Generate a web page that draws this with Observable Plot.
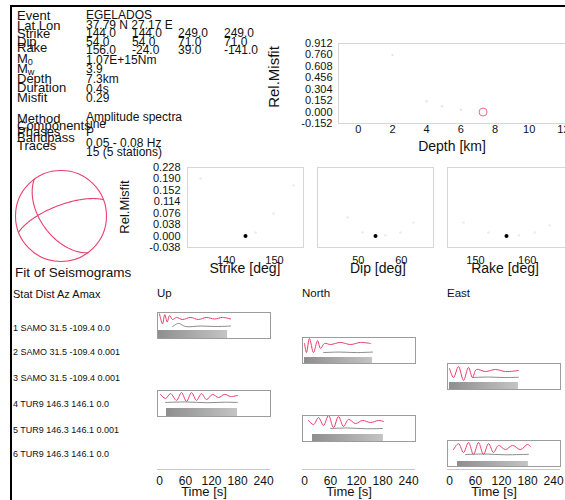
<!DOCTYPE html>
<html><head><meta charset="utf-8">
<script src="https://cdn.jsdelivr.net/npm/d3@7"></script>
<script src="https://cdn.jsdelivr.net/npm/@observablehq/plot@0.6"></script>
<style>
body{margin:0;background:#fff;}
#chart{position:relative;width:565px;height:500px;overflow:hidden;font-family:"Liberation Sans",Arial,Helvetica,sans-serif;background:#fff;color:#111;}
.t{position:absolute;white-space:nowrap;line-height:1;}
.t sub{font-size:70%;vertical-align:-0.25em;line-height:0;}
</style></head><body><div id="chart"></div><script>
// ---------------- DATA ----------------
const infoLabels = ["Event","Lat Lon","Strike","Dip","Rake","M<sub>0</sub>","M<sub>w</sub>","Depth","Duration","Misfit","Method","Components","Phases","Bandpass","Traces"];
const infoValues = [["EGELADOS"],["37.79 N 27.17 E"],["144.0","144.0","249.0","249.0"],["54.0","54.0","71.0","71.0"],["156.0","-24.0","39.0","-141.0"],["1.07E+15Nm"],["3.9"],["7.3km"],["0.4s"],["0.29"],["Amplitude spectra"],["une"],["P"],["0.05 - 0.08 Hz"],["15 (5 stations)"]];

const depthTicks = [-0.152,0,0.152,0.304,0.456,0.608,0.760,0.912];
const depthXTicks = [0,2,4,6,8,10,12];
const depthTrials = [{depth:2,misfit:0.76},{depth:4,misfit:0.144},{depth:4.9,misfit:0.077},{depth:6,misfit:0.03}];
const depthBest = [{depth:7.3,misfit:0}];

const misfitTicks = [-0.038,0,0.038,0.076,0.114,0.152,0.190,0.228];
const strikeTrials = [{v:134.7,m:0.191},{v:153.9,m:0.168},{v:149.8,m:0.075},{v:146.1,m:0.012}];
const dipTrials = [{v:47.5,m:0.062},{v:51,m:0.012},{v:56.3,m:0.002},{v:59.8,m:0.012},{v:62.8,m:0.045}];
const rakeTrials = [{v:147.7,m:0.045},{v:152.5,m:0.012},{v:158.4,m:0.002},{v:161.5,m:0.012},{v:164.3,m:0.035}];
const bestStrike = [{v:144,m:0}], bestDip = [{v:54,m:0}], bestRake = [{v:156,m:0}];

const planes = [{strike:144,dip:54},{strike:249,dip:71}];

const stations = ["1 SAMO 31.5 -109.4 0.0","2 SAMO 31.5 -109.4 0.001","3 SAMO 31.5 -109.4 0.001","4 TUR9 146.3 146.1 0.0","5 TUR9 146.3 146.1 0.001","6 TUR9 146.3 146.1 0.0"];
const components = ["Up","North","East","Up","North","East"];
const timeTicks = [0,60,120,180,240];
// synthetic (red) traces: [time s, relative amplitude]
const redTraces = [
 [[0,0.95],[6.9,0.56],[12.2,0.92],[17.8,0.63],[23.1,0.88],[30,0.73],[39,0.81],[53,0.73],[71,0.81],[90,0.73],[108,0.81],[127,0.75],[145,0.81],[164,0.75]],
 [[0,0.77],[4.6,0.42],[11.5,0.96],[20.8,0.42],[30,0.88],[37,0.58],[46,0.77],[60,0.73],[83,0.81],[106,0.73],[129,0.81],[152,0.77]],
 [[0,0.81],[9.2,0.46],[20.8,0.88],[32.3,0.35],[43.8,0.85],[53,0.46],[62,0.77],[83,0.69],[106,0.77],[129,0.69],[159,0.73]],
 [[2.3,0.85],[13.9,0.69],[25.4,0.88],[39.2,0.62],[50.8,0.92],[62.3,0.58],[73.8,0.92],[85.3,0.62],[96.9,0.88],[108.4,0.65],[122.2,0.85],[136.1,0.73],[149.9,0.85],[163.8,0.77],[180,0.81]],
 [[9.2,0.81],[20.8,0.65],[32.3,0.92],[43.8,0.62],[55.4,1.0],[66.9,0.54],[78.4,0.96],[90,0.58],[101.5,0.85],[117.6,0.69],[133.8,0.81],[152.2,0.73],[170.7,0.81],[182,0.77]],
 [[9.2,0.65],[20.8,0.88],[32.3,0.54],[43.8,0.92],[55.4,0.46],[66.9,0.92],[78.4,0.46],[90,0.88],[101.5,0.54],[113,0.81],[129.2,0.65],[145.3,0.81],[163.8,0.65],[180,0.85],[186.8,0.77]]
];
// observed (dark) traces
const darkTraces = [
 [[30,0.46],[44,0.58],[60,0.46],[95,0.48],[129,0.46],[164,0.48]],
 [[44,0.42],[80,0.44],[120,0.42],[157,0.44]],
 [[53,0.46],[90,0.48],[125,0.46],[159,0.47]],
 [[13.9,0.54],[60,0.56],[110,0.53],[150,0.55],[180,0.54]],
 [[60,0.5],[100,0.52],[140,0.49],[180,0.5]],
 [[36.9,0.46],[80,0.48],[130,0.45],[182,0.47]]
];
// grey envelope bands: [start s, end s, top]
const bands = [[-4.6,157,0.31],[0,157,0.23],[0,159,0.27],[16.2,180,0.31],[18.5,182,0.27],[18.5,182,0.19]];

// ---------------- LAYOUT ----------------
const FONT = '"Liberation Sans", Arial, Helvetica, sans-serif';
const PINK = "#e8406c";
const chart = document.getElementById("chart");
const labelY = [15,25,33,41,47,58,68,78,87,97,118,125,131,137,145];
const valueY = [15,25,33,42,50,60,69,79,89,98,117,124,132,143,152];
const valueX = [86,132,178,224];
const boxTop = [312,337,363,390,415,440];
const colLeft = {Up:157, North:302, East:447};
const rowLabelY = [328,352,378,404,430,454];

function addText(html, x, y, fs, o = {}) {
  const d = document.createElement("div");
  d.className = "t";
  d.innerHTML = html;
  d.style.fontSize = fs + "px";
  d.style.left = x + "px";
  d.style.top = (y - 0.49 * fs) + "px";
  if (o.center) d.style.transform = "translateX(-50%)";
  if (o.rotate) { d.style.top = y + "px"; d.style.transform = "translate(-50%,-50%) rotate(-90deg)"; }
  if (o.color) d.style.color = o.color;
  chart.appendChild(d);
  return d;
}
function place(svg, x, y) {
  svg.style.position = "absolute";
  svg.style.left = x + "px";
  svg.style.top = y + "px";
  chart.appendChild(svg);
}
function div(x, y, w, h, bg) {
  const d = document.createElement("div");
  Object.assign(d.style, {position:"absolute", left:x+"px", top:y+"px", width:w+"px", height:h+"px", background:bg});
  chart.appendChild(d);
}
const baseStyle = {background:"none", fontFamily:FONT, fontSize:"11px", color:"#111", overflow:"visible"};

// border
div(9.5, 5, 560, 2.3, "#000");
div(9.5, 5, 2.5, 500, "#000");

// info block
infoLabels.forEach((l, i) => addText(l, 17, labelY[i], 13));
infoValues.forEach((vals, i) => vals.forEach((v, j) => addText(v, valueX[j], valueY[i], 12)));

// depth panel
place(Plot.plot({
  width:290, height:130, marginLeft:48, marginTop:13, marginRight:0, marginBottom:37,
  style:baseStyle,
  x:{domain:[-1.16,13], ticks:depthXTicks, tickSize:0, tickPadding:2, label:null},
  y:{domain:[-0.152,0.912], ticks:depthTicks, tickSize:0, tickPadding:6, tickFormat:d=>d.toFixed(3), label:null},
  marks:[
    Plot.frame({stroke:"#d6d6d6"}),
    Plot.dot(depthTrials, {x:"depth", y:"misfit", r:1.2, fill:"#e6e6e6"}),
    Plot.dot(depthBest, {x:"depth", y:"misfit", r:4, stroke:"#e86a8a", fill:"none", strokeWidth:1})
  ]
}), 290, 30);
addText("Rel.Misfit", 273, 77, 15, {rotate:true});
addText("Depth [km]", 452, 146, 14, {center:true});

// beachball
const nodal = planes.flatMap((p, i) => d3.range(0, 181, 2).map(t => {
  const s = p.strike * Math.PI / 180, dp = p.dip * Math.PI / 180, tt = t * Math.PI / 180;
  const n = Math.cos(tt) * Math.cos(s) - Math.sin(tt) * Math.sin(s) * Math.cos(dp);
  const e = Math.cos(tt) * Math.sin(s) + Math.sin(tt) * Math.cos(s) * Math.cos(dp);
  const dn = Math.sin(tt) * Math.sin(dp);
  const plunge = Math.asin(Math.min(1, dn));
  const r = Math.SQRT2 * Math.sin((Math.PI / 2 - plunge) / 2);
  const h = Math.hypot(n, e) || 1;
  return {plane:i, x:r * e / h, y:r * n / h};
}));
place(Plot.plot({
  width:93, height:93, margin:1, style:baseStyle,
  x:{domain:[-1,1], axis:null}, y:{domain:[-1,1], axis:null},
  marks:[
    Plot.dot([{x:0,y:0}], {x:"x", y:"y", r:45.5, stroke:PINK, fill:"none", strokeWidth:1.1}),
    Plot.line(nodal, {x:"x", y:"y", z:"plane", stroke:PINK, strokeWidth:1.1})
  ]
}), 14, 169);

// misfit panels
function misfitPanel(trials, best, domain, ticks, left, width, ml) {
  place(Plot.plot({
    width, height:110, marginLeft:ml, marginRight:0, marginTop:10, marginBottom:20,
    style:baseStyle,
    x:{domain, ticks, tickSize:0, tickPadding:9, label:null},
    y:{domain:[-0.038,0.228], ticks:misfitTicks, tickSize:0, tickPadding:7, tickFormat:d=>d.toFixed(3), label:null, axis: ml ? "left" : null},
    marks:[
      Plot.frame({stroke:"#d6d6d6"}),
      Plot.dot(trials, {x:"v", y:"m", r:1.3, fill:"#ececec"}),
      Plot.dot(best, {x:"v", y:"m", r:2, fill:"#000"})
    ]
  }), left, 157);
}
misfitPanel(strikeTrials, bestStrike, [132,156], [140,150], 140, 163, 47);
misfitPanel(dipTrials, bestDip, [40.5,67.5], [50,60], 317, 116, 0);
misfitPanel(rakeTrials, bestRake, [144.6,167.4], [150,160], 447, 118, 0);
addText("Rel.Misfit", 124, 207, 13, {rotate:true});
addText("Strike [deg]", 245, 268, 14, {center:true});
addText("Dip [deg]", 378, 268, 14, {center:true});
addText("Rake [deg]", 505, 268, 14, {center:true});

// seismograms
addText("Fit of Seismograms", 15, 273, 13.5);
addText("Stat Dist Az Amax", 13, 294, 11);
["Up","North","East"].forEach(c => addText(c, colLeft[c], 294, 11.5));
stations.forEach((s, i) => addText(s, 13, rowLabelY[i], 9));

const TDOM = [-4.6, 256];
redTraces.forEach((red, i) => {
  const b = bands[i];
  const band = [{t:b[0], top:b[2]}, {t:b[1], top:b[2]}];
  const gid = "g" + i;
  place(Plot.plot({
    width:115, height:28, margin:1, style:baseStyle,
    x:{domain:TDOM, axis:null}, y:{domain:[0,1], axis:null},
    marks:[
      () => { const svg = d3.create("svg:defs"); const g = svg.append("linearGradient").attr("id", gid);
        g.append("stop").attr("offset","0").attr("stop-color","#8e8e8e");
        g.append("stop").attr("offset","1").attr("stop-color","#c4c4c4"); return svg.node(); },
      Plot.areaY(band, {x:"t", y1:0, y2:"top", fill:`url(#${gid})`}),
      Plot.line(darkTraces[i], {x:d=>d[0], y:d=>d[1], stroke:"#6f6f6f", strokeWidth:0.8, curve:"catmull-rom"}),
      Plot.line(red, {x:d=>d[0], y:d=>d[1], stroke:PINK, strokeWidth:1, curve:"catmull-rom"}),
      Plot.frame({stroke:"#9c9c9c"})
    ]
  }), colLeft[components[i]] - 1, boxTop[i] - 1);
});

// time axes
["Up","North","East"].forEach(c => {
  place(Plot.plot({
    width:115, height:40, marginLeft:1, marginRight:1, marginTop:9, marginBottom:31,
    style:{...baseStyle, fontSize:"12px"},
    x:{domain:TDOM, ticks:timeTicks, tickSize:0, tickPadding:7, label:null},
    y:{domain:[0,1], axis:null},
    marks:[Plot.ruleY([0], {stroke:"#c8c8c8"})]
  }), colLeft[c] - 1, 460);
  addText("Time [s]", colLeft[c] + 47, 491, 13, {center:true});
});
</script></body></html>
